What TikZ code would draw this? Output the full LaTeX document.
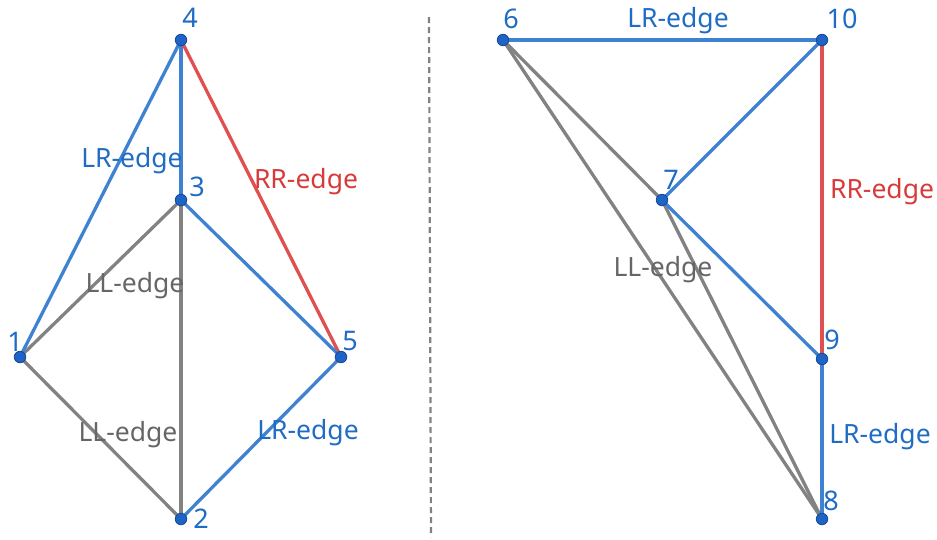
\documentclass[tikz,border=0pt]{standalone}
\usepackage{fontspec}
\setmainfont{Noto Sans}
\definecolor{eblue}{HTML}{3F82D2}
\definecolor{tblue}{HTML}{1F6CC4}
\definecolor{ered}{HTML}{E05050}
\definecolor{tred}{HTML}{D83A3A}
\definecolor{egrey}{HTML}{828282}
\definecolor{tgrey}{HTML}{666666}
\definecolor{dotfill}{HTML}{1E64C8}
\definecolor{dotline}{HTML}{154A90}
\begin{document}
\begin{tikzpicture}[x=1pt,y=-1pt,
  vert/.style={circle,fill=dotfill,draw=dotline,line width=0.8pt,inner sep=0pt,minimum size=11.5pt},
  num/.style={text=tblue,font=\fontsize{27}{27}\selectfont,inner sep=0pt},
  lbl/.style={font=\fontsize{26.5}{27}\selectfont,inner sep=0pt},
  be/.style={draw=eblue,line width=3.3pt},
  re/.style={draw=ered,line width=3.3pt},
  ge/.style={draw=egrey,line width=3.3pt},
]
\useasboundingbox (0,0) rectangle (937,539);
\draw[egrey,line width=2.2pt,dash pattern=on 6pt off 4pt] (429,17) -- (431,537);
% left graph
\coordinate (n4) at (181,40);
\coordinate (n3) at (181,200);
\coordinate (n1) at (20,357);
\coordinate (n5) at (341,357);
\coordinate (n2) at (181,519);
\draw[ge] (n3) -- (n1);
\draw[ge] (n3) -- (n2);
\draw[ge] (n1) -- (n2);
\draw[be] (n4) -- (n1);
\draw[be] (n4) -- (n3);
\draw[re] (n4) -- (n5);
\draw[be] (n3) -- (n5);
\draw[be] (n5) -- (n2);
% right graph
\coordinate (n6) at (503,40);
\coordinate (n10) at (822,40);
\coordinate (n7) at (662,200);
\coordinate (n9) at (822,359);
\coordinate (n8) at (822,519);
\draw[ge] (n6) -- (n7);
\draw[ge] (n6) -- (n8);
\draw[ge] (n7) -- (n8);
\draw[be] (n6) -- (n10);
\draw[be] (n10) -- (n7);
\draw[re] (n10) -- (n9);
\draw[be] (n7) -- (n9);
\draw[be] (n9) -- (n8);
% vertices
\foreach \v in {n1,n2,n3,n4,n5,n6,n7,n8,n9,n10} \node[vert] (d\v) at (\v) {};
% numbers
\node[num] (l4) at (190,18) {4};
\node[num] (l3) at (197,187) {3};
\node[num] (l1) at (15,342) {1};
\node[num] (l5) at (350,341) {5};
\node[num] (l2) at (201,519) {2};
\node[num] (l6) at (511,19) {6};
\node[num] (l10) at (842,19) {10};
\node[num] (l7) at (671,180) {7};
\node[num] (l9) at (832,340) {9};
\node[num] (l8) at (831,501) {8};
% edge labels
\node[lbl,text=tblue] (e1) at (132,161) {LR-edge};
\node[lbl,text=tred] (e2) at (306,182) {RR-edge};
\node[lbl,text=tgrey] (e3) at (135,286) {LL-edge};
\node[lbl,text=tgrey] (e4) at (128,435) {LL-edge};
\node[lbl,text=tblue] (e5) at (308,433) {LR-edge};
\node[lbl,text=tblue] (e6) at (678,21) {LR-edge};
\node[lbl,text=tred] (e7) at (882,192) {RR-edge};
\node[lbl,text=tgrey] (e8) at (663,270) {LL-edge};
\node[lbl,text=tblue] (e9) at (880,437) {LR-edge};
\end{tikzpicture}
\end{document}
